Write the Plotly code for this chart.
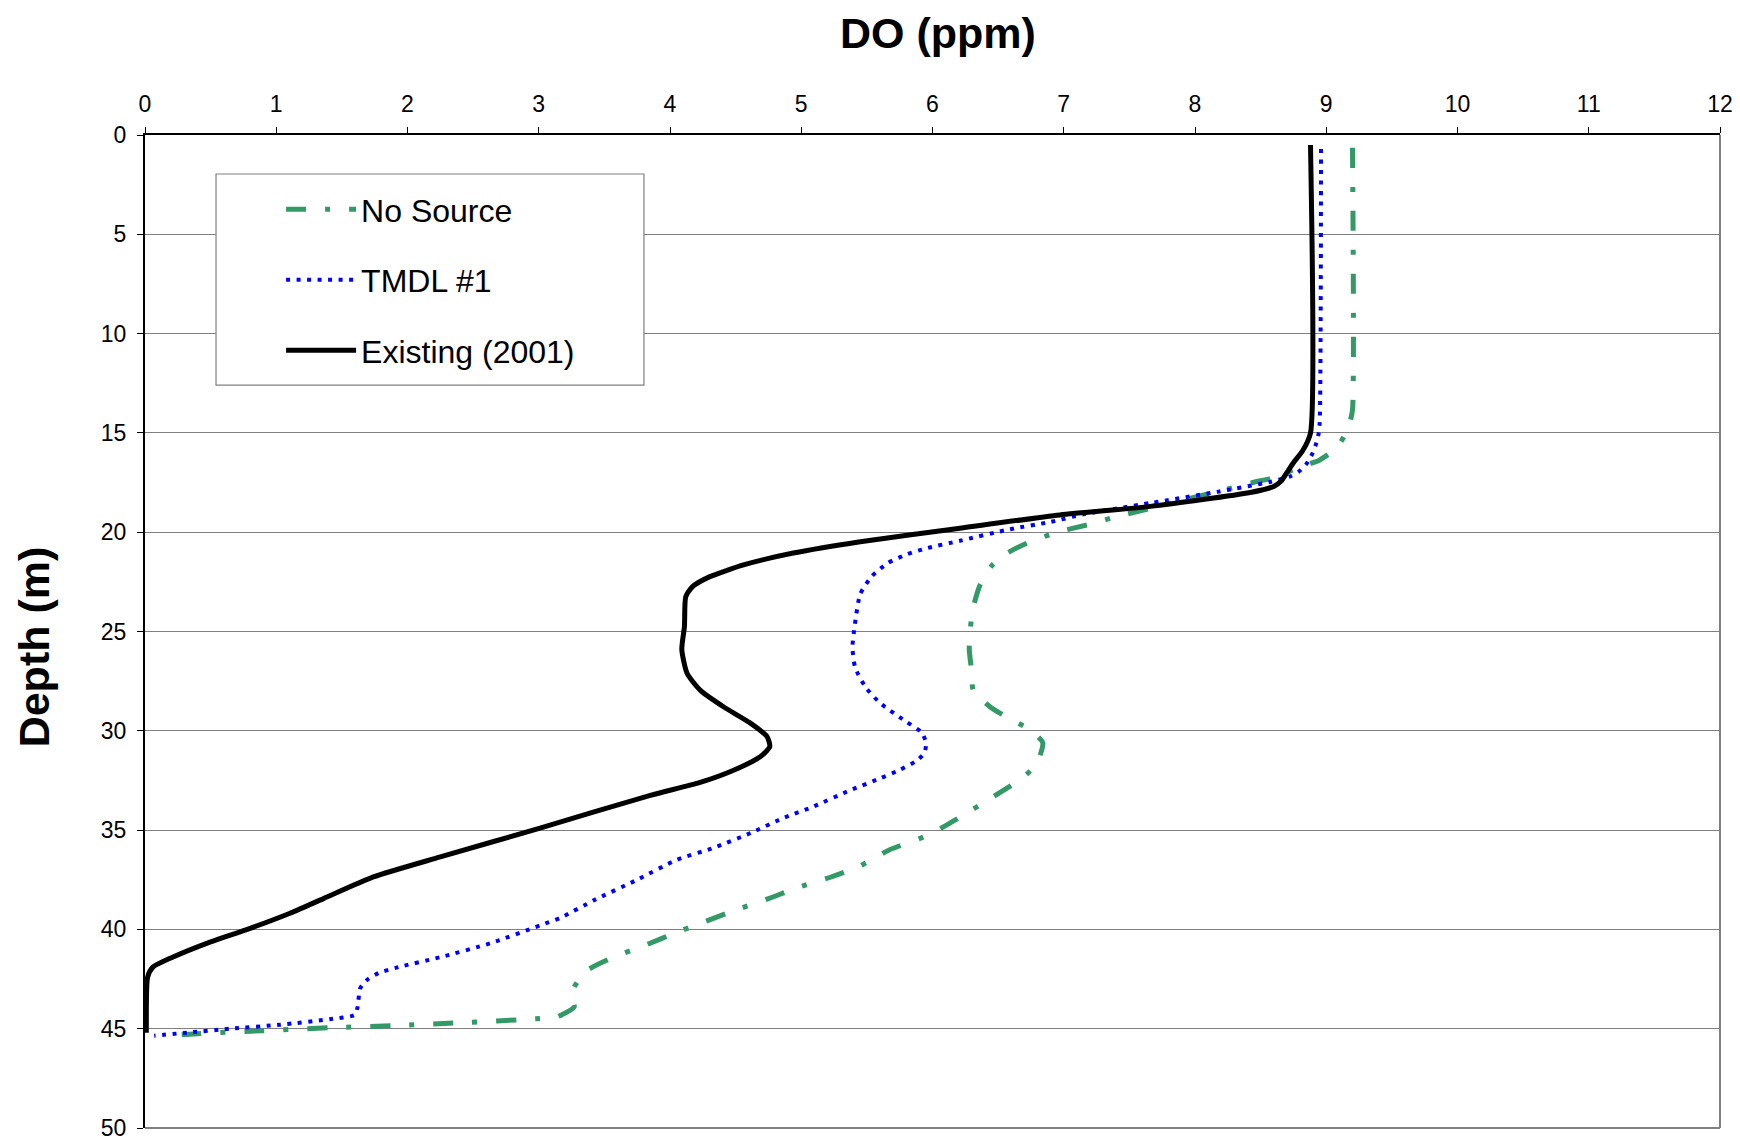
import plotly.graph_objects as go

# ---- Data ----
# No Source
depth_no_source = [0.64, 13.84, 14.5, 14.75, 15.75, 16.4, 16.7, 17.2, 17.5, 17.97, 18.3, 18.8,
                   19.2, 19.6, 20.0, 20.55, 21.05, 21.7, 22.7, 23.8, 24.75, 25.9, 27.1, 27.95,
                   28.8, 29.4, 29.9, 30.6, 31.7, 32.4, 33.0, 33.65, 34.15, 34.7, 35.27, 36.0,
                   36.8, 37.4, 37.9, 38.45, 39.05, 39.6, 40.15, 40.8, 41.4, 42.1, 42.9, 43.4,
                   43.9, 44.4, 44.5, 44.7, 44.85, 44.95, 45.1, 45.25, 45.35]
do_no_source = [9.20, 9.20, 9.18, 9.17, 9.08, 8.94, 8.80, 8.63, 8.44, 8.16, 7.96, 7.66,
                7.41, 7.20, 6.95, 6.72, 6.57, 6.45, 6.36, 6.31, 6.29, 6.28, 6.30, 6.31,
                6.44, 6.59, 6.73, 6.84, 6.79, 6.68, 6.54, 6.38, 6.26, 6.12, 5.96, 5.67,
                5.45, 5.21, 4.97, 4.75, 4.49, 4.27, 4.05, 3.81, 3.57, 3.36, 3.27, 3.25,
                3.27, 3.14, 2.98, 2.40, 1.89, 1.41, 0.90, 0.40, 0.16]

# TMDL #1
depth_tmdl = [0.7, 14.5, 15.1, 15.6, 16.1, 16.55, 16.95, 17.2, 17.47, 17.97, 18.53, 19.1,
              19.48, 19.85, 20.43, 20.8, 21.1, 21.55, 22.2, 23.1, 24.1, 25.1, 25.8, 26.8,
              27.8, 28.6, 29.5, 30.1, 30.6, 31.1, 31.5, 32.0, 32.4, 33.0, 33.85, 34.4,
              35.1, 35.9, 36.5, 37.5, 38.5, 39.4, 39.8, 40.7, 41.4, 41.9, 42.2, 42.5,
              42.96, 43.9, 44.3, 44.5, 44.8, 45.0, 45.2, 45.35]
do_tmdl = [8.96, 8.95, 8.94, 8.92, 8.89, 8.85, 8.79, 8.72, 8.57, 8.17, 7.66, 7.15,
           6.90, 6.59, 6.21, 5.96, 5.81, 5.66, 5.54, 5.45, 5.42, 5.40, 5.39, 5.41,
           5.49, 5.60, 5.79, 5.92, 5.95, 5.94, 5.88, 5.74, 5.60, 5.37, 5.08, 4.86,
           4.63, 4.33, 4.05, 3.75, 3.43, 3.17, 3.01, 2.63, 2.25, 1.93, 1.78, 1.70,
           1.64, 1.62, 1.60, 1.43, 1.03, 0.65, 0.32, 0.07]

# Existing (2001)
depth_existing = [0.5, 15.0, 15.9, 16.5, 17.0, 17.4, 17.7, 18.0, 18.7, 19.13, 19.8, 20.48,
                  21.05, 21.65, 22.25, 22.75, 23.25, 24.75, 25.9, 27.1, 27.95, 28.8, 29.6,
                  30.3, 30.8, 31.3, 32.0, 32.6, 33.25, 34.9, 36.35, 37.36, 38.45, 39.2,
                  39.95, 40.7, 41.4, 41.9, 42.4, 44.95, 45.2]
do_existing = [8.88, 8.88, 8.82, 8.75, 8.70, 8.66, 8.60, 8.42, 7.66, 6.97, 6.21, 5.45,
               4.94, 4.56, 4.30, 4.17, 4.12, 4.11, 4.09, 4.13, 4.23, 4.41, 4.61,
               4.74, 4.76, 4.69, 4.48, 4.23, 3.85, 3.01, 2.25, 1.74, 1.36, 1.10,
               0.80, 0.47, 0.21, 0.06, 0.02, 0.01, 0.01]

x_ticks = list(range(0, 13))
y_ticks = list(range(0, 51, 5))

FONT = "Liberation Sans, Arial, sans-serif"

fig = go.Figure()
fig.add_trace(go.Scatter(
    x=do_no_source, y=depth_no_source, mode="lines", name="No Source",
    legendgroup="a",
    line=dict(color="#339966", width=5, dash="20px,19px,5px,19px",
              shape="spline", smoothing=0.6)))
fig.add_trace(go.Scatter(
    x=do_tmdl, y=depth_tmdl, mode="lines", name="TMDL #1",
    legendgroup="b",
    line=dict(color="#0000ff", width=4, dash="4px,6.5px",
              shape="spline", smoothing=0.6)))
fig.add_trace(go.Scatter(
    x=do_existing, y=depth_existing, mode="lines", name="Existing (2001)",
    legendgroup="c",
    line=dict(color="#000000", width=5, shape="spline", smoothing=0.6)))

fig.update_layout(
    width=1740, height=1138,
    margin=dict(l=137, r=28, t=127, b=18, autoexpand=False),
    paper_bgcolor="white", plot_bgcolor="white",
    font=dict(family=FONT, color="black"),
    showlegend=True,
    legend=dict(
        x=0.0864, y=0.9528, xanchor="left", yanchor="top",
        bgcolor="rgba(0,0,0,0)", borderwidth=0,
        font=dict(family=FONT, size=32, color="black"),
        itemwidth=70, tracegroupgap=26,
    ),
    xaxis=dict(
        range=[0, 12], side="top", tickvals=x_ticks, ticktext=[str(v) for v in x_ticks],
        ticks="outside", ticklen=6, tickcolor="black", tickwidth=1,
        tickfont=dict(family=FONT, size=23, color="black"),
        ticklabelstandoff=6, automargin=False,
        showgrid=False, zeroline=False,
        showline=True, linecolor="black", linewidth=2,
    ),
    yaxis=dict(
        range=[50, 0], tickvals=y_ticks, ticktext=[str(v) for v in y_ticks],
        ticks="outside", ticklen=6, tickcolor="black", tickwidth=1,
        tickfont=dict(family=FONT, size=23, color="black"),
        ticklabelstandoff=6, automargin=False,
        showgrid=True, gridcolor="#808080", gridwidth=1.3, zeroline=False,
        showline=True, linecolor="black", linewidth=2,
    ),
    shapes=[
        # right and bottom plot border (gray)
        dict(type="line", xref="paper", yref="paper", x0=1, x1=1, y0=0, y1=1,
             line=dict(color="#808080", width=2), layer="above"),
        dict(type="line", xref="paper", yref="paper", x0=0, x1=1, y0=0, y1=0,
             line=dict(color="#808080", width=2), layer="above"),
        # legend box
        dict(type="rect", xref="paper", yref="paper", x0=0.0451, x1=0.3168,
             y0=0.7482, y1=0.9607, fillcolor="white",
             line=dict(color="#808080", width=1.2), layer="above"),
    ],
    annotations=[
        dict(text="<b>DO (ppm)</b>", xref="paper", yref="paper", x=0.5035, y=1.103,
             xanchor="center", yanchor="middle", showarrow=False,
             font=dict(family=FONT, size=43, color="black")),
        dict(text="<b>Depth (m)</b>", xref="paper", yref="paper", x=-0.0705, y=0.485,
             xanchor="center", yanchor="middle", showarrow=False, textangle=-90,
             font=dict(family=FONT, size=43, color="black")),
    ],
)

fig.write_html("out.html")
